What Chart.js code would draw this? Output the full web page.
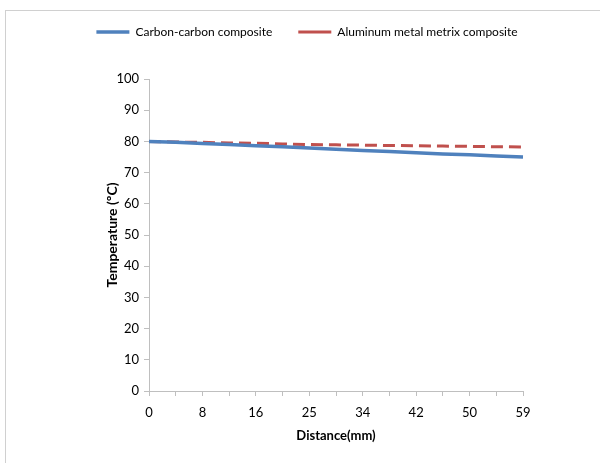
<!DOCTYPE html>
<html>
<head>
<meta charset="utf-8">
<script src="https://cdn.jsdelivr.net/npm/chart.js@4/dist/chart.umd.min.js"></script>
<style>
  html, body { margin: 0; padding: 0; background: #fff; }
  #wrap { position: relative; width: 600px; height: 463px; }
  #frame { position: absolute; left: 5px; top: 10px; right: 0; bottom: 0;
           border-left: 1px solid #d0d0d0; border-top: 1px solid #d0d0d0; }
  canvas { position: absolute; left: 0; top: 0; }
</style>
</head>
<body>
<div id="wrap">
  <div id="frame"></div>
  <canvas id="chart" width="600" height="463"></canvas>
</div>
<script>
const distances = ['0', '4', '8', '12', '16', '21', '25', '29', '34', '38', '42', '46', '50', '55', '59'];
const carbonCarbon = [80, 79.7, 79.3, 79.0, 78.6, 78.3, 77.9, 77.5, 77.1, 76.8, 76.4, 76.0, 75.7, 75.3, 75.0];
const aluminumMmc = [80, 79.8, 79.7, 79.5, 79.4, 79.2, 79.0, 78.9, 78.8, 78.7, 78.6, 78.5, 78.4, 78.3, 78.2];
const yTicks = [0, 10, 20, 30, 40, 50, 60, 70, 80, 90, 100];

const font = "Lato, 'Open Sans', sans-serif";
Chart.defaults.font.family = font;
Chart.defaults.color = '#000';

// keep legend tall enough so the plot starts at y=79, and nudge it right like the original
const sizePlugin = {
    id: 'sizePlugin',
    beforeLayout(chart) {
        if (chart.legend && !chart.legend._patched) {
            const orig = chart.legend.fit;
            chart.legend.fit = function () {
                orig.call(this);
                this.height = 79;
            };
            chart.legend._patched = true;
        }
    },
    afterLayout(chart) {
        if (chart.legend) {
            chart.legend.left += 7;
            chart.legend.right += 7;
        }
    }
};

new Chart(document.getElementById('chart'), {
    type: 'line',
    data: {
        labels: distances,
        datasets: [{
            label: 'Carbon-carbon composite',
            data: carbonCarbon,
            borderColor: '#4f81bd',
            backgroundColor: '#4f81bd',
            borderWidth: 3.5,
            pointRadius: 0,
            pointStyle: 'line',
            tension: 0
        }, {
            label: 'Aluminum metal metrix composite',
            data: aluminumMmc,
            borderColor: '#c0504d',
            backgroundColor: '#c0504d',
            borderWidth: 3,
            borderDash: [12, 6],
            pointRadius: 0,
            pointStyle: 'line',
            tension: 0
        }]
    },
    options: {
        responsive: false,
        animation: false,
        layout: { padding: 0 },
        plugins: {
            legend: {
                position: 'top',
                labels: {
                    usePointStyle: true,
                    pointStyleWidth: 33,
                    boxHeight: 3,
                    padding: 26,
                    font: { size: 12, family: font },
                    color: '#000'
                }
            },
            tooltip: { enabled: false }
        },
        scales: {
            x: {
                type: 'category',
                offset: false,
                afterFit(scale) { scale.height = 72; },
                grid: {
                    drawOnChartArea: false,
                    drawTicks: true,
                    tickLength: 5,
                    color: '#bfbfbf'
                },
                border: { color: '#bfbfbf', width: 1 },
                ticks: {
                    autoSkip: false,
                    maxRotation: 0,
                    padding: 9,
                    font: { size: 13, family: font },
                    callback(value, index) {
                        return index % 2 === 0 ? distances[index] : '';
                    }
                },
                title: {
                    display: true,
                    text: 'Distance(mm)',
                    font: { size: 13, weight: 'bold', family: font },
                    padding: { top: 0, bottom: 19 }
                }
            },
            y: {
                min: 0,
                max: 100,
                afterFit(scale) { scale.width = 149; },
                afterBuildTicks(scale) { scale.ticks = yTicks.map(v => ({ value: v })); },
                grid: {
                    drawOnChartArea: false,
                    drawTicks: true,
                    tickLength: 5,
                    color: '#bfbfbf'
                },
                border: { color: '#bfbfbf', width: 1 },
                ticks: {
                    padding: 5,
                    font: { size: 13, family: font }
                },
                title: {
                    display: true,
                    text: 'Temperature (ºC)',
                    font: { size: 14, weight: 'bold', family: font },
                    padding: { top: 104, bottom: 0 }
                }
            },
            spacer: {
                position: 'right',
                min: 0,
                max: 100,
                afterFit(scale) { scale.width = 77; },
                grid: { display: false },
                border: { display: false },
                ticks: { display: false }
            }
        }
    },
    plugins: [sizePlugin]
});
</script>
</body>
</html>
